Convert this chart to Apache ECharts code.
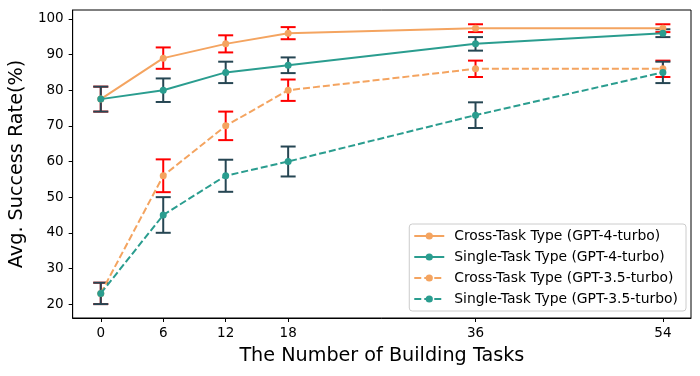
<!DOCTYPE html>
<html lang="en">
<head>
    <meta charset="UTF-8">
    <title>Success rate vs building tasks</title>
    <script src="https://cdn.jsdelivr.net/npm/echarts@6/dist/echarts.min.js"></script>
    <style>
        html, body { margin: 0; padding: 0; background: #fff; }
    </style>
</head>
<body>
<div id="main" style="width: 700px;height:376px;"></div>
<script type="text/javascript">
    // number of building tasks (x)
    var tasks = [0, 6, 12, 18, 36, 54];
    var yTicks = [20, 30, 40, 50, 60, 70, 80, 90, 100];

    // mean success rate and error (half length of bar)
    var crossGpt4 = [77.5, 89, 93, 96, 97.4, 97.4];
    var crossGpt4Err = [3.5, 3, 2.4, 1.7, 1.1, 1.1];
    var singleGpt4 = [77.5, 80, 85, 87, 93, 96];
    var singleGpt4Err = [3.5, 3.3, 3, 2.2, 1.9, 1.1];
    var crossGpt35 = [23, 56, 70, 80, 86, 86];
    var crossGpt35Err = [3, 4.6, 4, 3, 2.3, 2.3];
    var singleGpt35 = [23, 45, 56, 60, 73, 85];
    var singleGpt35Err = [3, 5, 4.5, 4.2, 3.6, 3];

    var orange = '#F4A460';
    var teal = '#2A9D8F';
    var red = '#FF0000';
    var dark = '#264653';

    function pts(ys) {
        return tasks.map(function (t, i) { return [t, ys[i]]; });
    }
    function bars(ys, errs) {
        return tasks.map(function (t, i) { return [t, ys[i] - errs[i], ys[i] + errs[i]]; });
    }

    function errSeries(name, ys, errs, color, z) {
        return {
            name: name,
            type: 'custom',
            z: z,
            data: bars(ys, errs),
            encode: { x: 0, y: [1, 2] },
            renderItem: function (params, api) {
                var x = api.value(0);
                var top = api.coord([x, api.value(2)]);
                var bot = api.coord([x, api.value(1)]);
                var w = 7.5;
                var st = { stroke: color, lineWidth: 2 };
                return {
                    type: 'group',
                    children: [
                        { type: 'line', shape: { x1: top[0], y1: top[1], x2: bot[0], y2: bot[1] }, style: st },
                        { type: 'line', shape: { x1: top[0] - w, y1: top[1], x2: top[0] + w, y2: top[1] }, style: st },
                        { type: 'line', shape: { x1: bot[0] - w, y1: bot[1], x2: bot[0] + w, y2: bot[1] }, style: st }
                    ]
                };
            }
        };
    }

    function lineSeries(name, ys, color, dashed, z) {
        return {
            name: name,
            type: 'line',
            z: z,
            data: pts(ys),
            symbol: 'circle',
            symbolSize: 7,
            itemStyle: { color: color },
            lineStyle: { color: color, width: 2, type: dashed ? [7, 3] : 'solid' }
        };
    }

    var font = 'DejaVu Sans';
    var myChart = echarts.init(document.getElementById('main'));
    myChart.setOption({
        animation: false,
        textStyle: { fontFamily: font },
        grid: {
            left: 71, right: 9, top: 10, bottom: 58,
            show: true, borderColor: '#000', borderWidth: 1, backgroundColor: 'transparent'
        },
        legend: {
            orient: 'vertical',
            right: 14,
            bottom: 65,
            data: ['Cross-Task Type (GPT-4-turbo)', 'Single-Task Type (GPT-4-turbo)',
                   'Cross-Task Type (GPT-3.5-turbo)', 'Single-Task Type (GPT-3.5-turbo)'],
            itemWidth: 30,
            itemHeight: 9,
            itemGap: 7,
            padding: [5, 8, 5, 4],
            borderColor: '#cccccc',
            borderWidth: 1,
            borderRadius: 3,
            backgroundColor: 'rgba(255,255,255,0.8)',
            textStyle: { fontFamily: font, fontSize: 13.9, color: '#000', padding: [0, 0, 0, 5] }
        },
        xAxis: {
            type: 'value',
            min: -2.7,
            max: 56.7,
            name: 'The Number of Building Tasks',
            nameLocation: 'middle',
            nameGap: 29,
            nameTextStyle: { fontFamily: font, fontSize: 19.2, color: '#000' },
            splitLine: { show: false },
            axisLine: { show: true, onZero: false, lineStyle: { color: '#000', width: 1 } },
            axisTick: { show: true, length: 4, customValues: tasks, lineStyle: { color: '#000' } },
            axisLabel: { customValues: tasks, margin: 8, fontSize: 13.5, color: '#000', fontFamily: font }
        },
        yAxis: {
            type: 'value',
            min: 16.1,
            max: 102.5,
            name: 'Avg. Success Rate(%)',
            nameLocation: 'middle',
            nameRotate: 90,
            nameGap: 30,
            nameTextStyle: { fontFamily: font, fontSize: 19.2, color: '#000' },
            splitLine: { show: false },
            axisLine: { show: true, onZero: false, lineStyle: { color: '#000', width: 1 } },
            axisTick: { show: true, length: 4, customValues: yTicks, lineStyle: { color: '#000' } },
            axisLabel: { customValues: yTicks, margin: 9, fontSize: 13.5, color: '#000', fontFamily: font }
        },
        series: [
            errSeries('e1', crossGpt4, crossGpt4Err, red, 2),
            errSeries('e2', singleGpt4, singleGpt4Err, dark, 3),
            errSeries('e3', crossGpt35, crossGpt35Err, red, 2),
            errSeries('e4', singleGpt35, singleGpt35Err, dark, 3),
            lineSeries('Cross-Task Type (GPT-4-turbo)', crossGpt4, orange, false, 4),
            lineSeries('Single-Task Type (GPT-4-turbo)', singleGpt4, teal, false, 5),
            lineSeries('Cross-Task Type (GPT-3.5-turbo)', crossGpt35, orange, true, 4),
            lineSeries('Single-Task Type (GPT-3.5-turbo)', singleGpt35, teal, true, 5)
        ]
    });
</script>
</body>
</html>
